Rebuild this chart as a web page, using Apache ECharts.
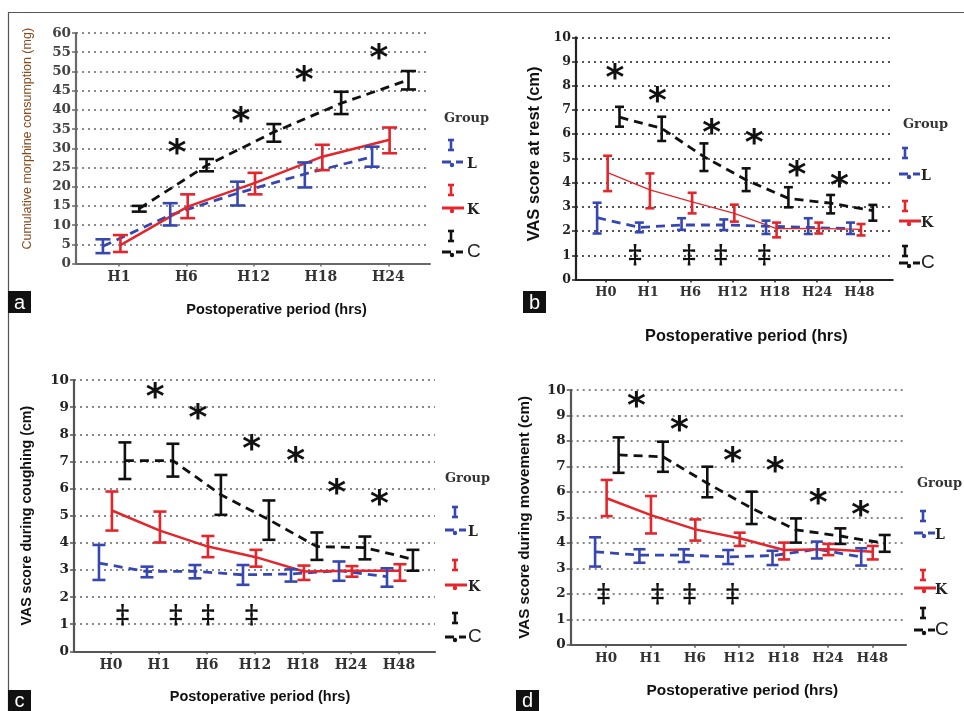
<!DOCTYPE html>
<html><head><meta charset="utf-8">
<script src="https://cdn.jsdelivr.net/npm/echarts@6/dist/echarts.min.js"></script>
<style>html,body{margin:0;padding:0;background:#fff}#c{width:964px;height:711px}</style>
</head><body><div id="c"></div>
<script>
// ---------------- DATA ----------------
const catsA = ['H1','H6','H12','H18','H24'];
const catsB = ['H0','H1','H6','H12','H18','H24','H48'];

// Panel a: cumulative morphine consumption (mg)
const aL_mean = [4.5, 12.6, 18.3, 23.3, 27.8];
const aL_lo   = [2.7, 9.9, 15.1, 19.8, 25.2];
const aL_hi   = [6.3, 15.7, 21.3, 26.3, 30.4];
const aK_mean = [4.8, 14.8, 21.0, 27.8, 32.2];
const aK_lo   = [3.0, 11.8, 18.0, 24.3, 28.7];
const aK_hi   = [7.4, 18.0, 23.6, 30.9, 35.4];
const aC_mean = [14.3, 25.5, 34.2, 41.7, 47.8];
const aC_lo   = [13.5, 24.0, 31.7, 38.9, 45.3];
const aC_hi   = [15.0, 27.2, 36.3, 44.7, 50.1];
const aStarX = [0.86, 1.81, 2.75, 3.86];
const aStarY = [30.3, 38.7, 49.5, 55.2];

// Panel b: VAS at rest
const bL_mean = [2.55, 2.15, 2.25, 2.25, 2.2, 2.15, 2.1];
const bL_lo   = [1.9, 1.95, 2.05, 2.04, 1.88, 1.88, 1.88];
const bL_hi   = [3.17, 2.35, 2.53, 2.48, 2.43, 2.53, 2.35];
const bK_mean = [4.41, 3.7, 3.21, 2.73, 2.1, 2.11, 2.07];
const bK_lo   = [3.65, 2.94, 2.73, 2.39, 1.74, 1.9, 1.82];
const bK_hi   = [5.11, 4.38, 3.58, 3.09, 2.35, 2.35, 2.29];
const bC_mean = [6.7, 6.24, 5.07, 4.11, 3.35, 3.15, 2.84];
const bC_lo   = [6.31, 5.72, 4.48, 3.65, 2.98, 2.73, 2.43];
const bC_hi   = [7.13, 6.72, 5.62, 4.59, 3.81, 3.49, 3.08];
const bStarX = [0.21, 1.22, 2.5, 3.51, 4.52, 5.53];
const bStarY = [8.58, 7.65, 6.31, 5.9, 4.59, 4.11];
const bDagX = [0.69, 1.97, 2.72, 3.75];
const bDagY = [0.95, 0.95, 0.95, 0.95];

// Panel c: VAS during coughing
const cL_mean = [3.25, 2.94, 2.95, 2.82, 2.85, 2.97, 2.75];
const cL_lo   = [2.63, 2.73, 2.69, 2.45, 2.57, 2.6, 2.38];
const cL_hi   = [3.92, 3.12, 3.18, 3.18, 3.02, 3.31, 3.06];
const cK_mean = [5.19, 4.45, 3.86, 3.47, 2.94, 2.97, 2.97];
const cK_lo   = [4.45, 4.01, 3.47, 3.12, 2.63, 2.75, 2.6];
const cK_hi   = [5.89, 5.15, 4.25, 3.74, 3.16, 3.14, 3.21];
const cC_mean = [7.03, 7.03, 5.77, 4.85, 3.86, 3.82, 3.39];
const cC_lo   = [6.35, 6.44, 5.03, 4.11, 3.37, 3.39, 2.97];
const cC_hi   = [7.7, 7.65, 6.5, 5.56, 4.38, 4.23, 3.74];
const cStarX = [0.92, 1.81, 2.93, 3.85, 4.7, 5.59];
const cStarY = [9.62, 8.84, 7.68, 7.24, 6.07, 5.68];
const cDagX = [0.24, 1.35, 2.02, 2.93];
const cDagY = [1.3, 1.3, 1.3, 1.3];

// Panel d: VAS during movement
const dL_mean = [3.65, 3.52, 3.52, 3.45, 3.5, 3.75, 3.45];
const dL_lo   = [3.07, 3.22, 3.25, 3.17, 3.13, 3.39, 3.11];
const dL_hi   = [4.22, 3.75, 3.75, 3.72, 3.69, 4.05, 3.79];
const dK_mean = [5.75, 5.09, 4.53, 4.18, 3.72, 3.75, 3.65];
const dK_lo   = [5.05, 4.37, 4.09, 3.88, 3.35, 3.52, 3.35];
const dK_hi   = [6.47, 5.84, 4.92, 4.4, 4.01, 3.96, 3.88];
const dC_mean = [7.45, 7.38, 6.34, 5.36, 4.51, 4.27, 3.98];
const dC_lo   = [6.75, 6.79, 5.79, 4.74, 4.01, 3.96, 3.65];
const dC_hi   = [8.14, 7.97, 6.99, 6.01, 4.96, 4.57, 4.31];
const dStarX = [0.68, 1.65, 2.85, 3.81, 4.78, 5.74];
const dStarY = [9.61, 8.69, 7.45, 7.06, 5.81, 5.36];
const dDagX = [-0.06, 1.16, 1.88, 2.85];
const dDagY = [1.95, 1.95, 1.95, 1.95];

const groupLabels = ['L', 'K', 'C'];
const xTitle = 'Postoperative period (hrs)';
const yTitles = ['Cumulative morphine consumption (mg)', 'VAS score at rest (cm)',
                 'VAS score during coughing (cm)', 'VAS score during movement (cm)'];
const panelLetters = ['a', 'b', 'c', 'd'];

// ---------------- STYLE / LAYOUT ----------------
const BLUE = '#3747b2', RED = '#e3262c', BLACK = '#111111';
const SERIF = '"DejaVu Serif", serif';
const SANS = '"Liberation Sans", Arial, sans-serif';

const panels = [
  { grid: {left: 76, top: 33, width: 354, height: 230.5}, xmin: -0.64, xmax: 4.62, ymax: 60, yint: 5,
    cats: catsA, off: [-0.24, 0.02, 0.3], axisColor: '#6a6a6a', gridColor: '#8a8a8a',
    yLabelSize: 13.5, yLabelColor: '#444', xLabelSize: 14, cap: 15, kWidth: 2.5,
    yName: {gap: 42, size: 12.5, color: '#8b4a1c', weight: 'normal', pad: 19},
    xName: {gap: 39, size: 14.5, pad: 47},
    series: [[aL_mean, aL_lo, aL_hi], [aK_mean, aK_lo, aK_hi], [aC_mean, aC_lo, aC_hi]],
    stars: [aStarX, aStarY], dags: null },
  { grid: {left: 576, top: 37.3, width: 316.7, height: 242.2}, xmin: -0.71, xmax: 6.79, ymax: 10, yint: 1,
    cats: catsB, off: [-0.21, 0.04, 0.32], axisColor: '#222', gridColor: '#555',
    yLabelSize: 12.5, yLabelColor: '#222', xLabelSize: 13, cap: 9, kWidth: 1.3,
    yName: {gap: 33, size: 16.5, color: '#111', weight: 'bold', pad: 9},
    xName: {gap: 49, size: 16.3, pad: 24},
    series: [[bL_mean, bL_lo, bL_hi], [bK_mean, bK_lo, bK_hi], [bC_mean, bC_lo, bC_hi]],
    stars: [bStarX, bStarY], dags: [bDagX, bDagY] },
  { grid: {left: 74, top: 380, width: 361, height: 271.3}, xmin: -0.77, xmax: 6.75, ymax: 10, yint: 1,
    cats: catsB, off: [-0.25, 0.02, 0.29], axisColor: '#555', gridColor: '#888',
    yLabelSize: 13.5, yLabelColor: '#222', xLabelSize: 14, cap: 13, kWidth: 2.5,
    yName: {gap: 40, size: 14.2, color: '#111', weight: 'bold', pad: 0},
    xName: {gap: 38, size: 14.5, pad: 11},
    series: [[cL_mean, cL_lo, cL_hi], [cK_mean, cK_lo, cK_hi], [cC_mean, cC_lo, cC_hi]],
    stars: [cStarX, cStarY], dags: [cDagX, cDagY] },
  { grid: {left: 570.7, top: 390, width: 335.3, height: 254.8}, xmin: -0.8, xmax: 6.76, ymax: 10, yint: 1,
    cats: catsB, off: [-0.25, 0.01, 0.28], axisColor: '#555', gridColor: '#888',
    yLabelSize: 13.5, yLabelColor: '#222', xLabelSize: 13.5, cap: 12, kWidth: 2.5,
    yName: {gap: 38, size: 15.2, color: '#111', weight: 'bold', pad: 0},
    xName: {gap: 38, size: 15.4, pad: 8},
    series: [[dL_mean, dL_lo, dL_hi], [dK_mean, dK_lo, dK_hi], [dC_mean, dC_lo, dC_hi]],
    stars: [dStarX, dStarY], dags: [dDagX, dDagY] }
];
const groupColors = [BLUE, RED, BLACK];
const groupDash = [[9, 6], 'solid', [9, 6]];

// ---------------- BUILD ----------------
const grids = [], xAxes = [], yAxes = [], series = [];

function errSeries(pi, lo, hi, off, color, capW) {
  return {
    type: 'custom', xAxisIndex: pi, yAxisIndex: pi, clip: false, z: 4, silent: true,
    data: lo.map((l, i) => [i + off, l, hi[i]]),
    encode: {x: 0, y: [1, 2]},
    renderItem: (params, api) => {
      const x = api.value(0), l = api.value(1), h = api.value(2);
      const p1 = api.coord([x, h]), p2 = api.coord([x, l]);
      const st = {stroke: color, lineWidth: 2.6};
      return {type: 'group', children: [
        {type: 'line', shape: {x1: p1[0], y1: p1[1], x2: p2[0], y2: p2[1]}, style: st},
        {type: 'line', shape: {x1: p1[0] - capW / 2, y1: p1[1], x2: p1[0] + capW / 2, y2: p1[1]}, style: st},
        {type: 'line', shape: {x1: p2[0] - capW / 2, y1: p2[1], x2: p2[0] + capW / 2, y2: p2[1]}, style: st}
      ]};
    }
  };
}

function textSeries(pi, xs, ys, txt, size, family, dy) {
  return {
    type: 'custom', xAxisIndex: pi, yAxisIndex: pi, clip: false, z: 5, silent: true,
    data: xs.map((x, i) => [x, ys[i]]),
    encode: {x: 0, y: 1},
    renderItem: (params, api) => {
      const p = api.coord([api.value(0), api.value(1)]);
      return {type: 'text', x: p[0], y: p[1] + dy, style: {
        text: txt, fill: '#111', font: 'bold ' + size + 'px ' + family,
        align: 'center', verticalAlign: 'middle', textAlign: 'center', textVerticalAlign: 'middle'}};
    }
  };
}

panels.forEach((p, pi) => {
  grids.push(Object.assign({containLabel: false}, p.grid));
  const idx = p.cats.map((c, i) => i);
  xAxes.push({
    type: 'value', gridIndex: pi, min: p.xmin, max: p.xmax,
    splitLine: {show: false},
    axisLine: {show: true, onZero: false, lineStyle: {color: p.axisColor, width: 2.2}},
    axisTick: {show: true, customValues: idx, length: 3, lineStyle: {color: p.axisColor, width: 1.5}},
    axisLabel: {customValues: idx, formatter: v => p.cats[Math.round(v)], fontFamily: SERIF,
      fontWeight: 'bold', fontSize: p.xLabelSize, color: '#333', margin: 7},
    name: xTitle, nameLocation: 'middle', nameGap: p.xName.gap,
    nameTextStyle: {fontFamily: SANS, fontWeight: 'bold', fontSize: p.xName.size, color: '#111',
      padding: [0, 0, 0, p.xName.pad]}
  });
  yAxes.push({
    type: 'value', gridIndex: pi, min: 0, max: p.ymax, interval: p.yint,
    axisLine: {show: true, onZero: false, lineStyle: {color: p.axisColor, width: 2.2}},
    axisTick: {show: true, length: 4, lineStyle: {color: p.axisColor, width: 1.5}},
    splitLine: {show: true, lineStyle: {type: [2, 4], color: p.gridColor, width: 2}},
    axisLabel: {fontFamily: SERIF, fontWeight: 'bold', fontSize: p.yLabelSize, color: p.yLabelColor, margin: 5},
    name: yTitles[pi], nameLocation: 'middle', nameRotate: 90, nameGap: p.yName.gap,
    nameTextStyle: {fontFamily: SANS, fontWeight: p.yName.weight, fontSize: p.yName.size, color: p.yName.color,
      padding: [0, 0, 0, p.yName.pad]}
  });
  p.series.forEach((s, gi) => {
    const [mean, lo, hi] = s;
    const off = p.off[gi];
    series.push({
      type: 'line', name: groupLabels[gi], xAxisIndex: pi, yAxisIndex: pi, z: 3, silent: true,
      data: mean.map((v, i) => [i + off, v]), symbol: 'none',
      lineStyle: {color: groupColors[gi], width: gi === 1 ? p.kWidth : 2.8, type: groupDash[gi]}
    });
    series.push(errSeries(pi, lo, hi, off, groupColors[gi], p.cap));
  });
  series.push(textSeries(pi, p.stars[0], p.stars[1], '*', 36, '"DejaVu Sans", sans-serif', 8));
  if (p.dags) series.push(textSeries(pi, p.dags[0], p.dags[1], '\u2021', 26, '"DejaVu Serif", serif', 0));
});

// ---------------- GRAPHIC (frame, labels, legends) ----------------
const graphic = [];
graphic.push({type: 'line', shape: {x1: 8, y1: 12.5, x2: 964, y2: 12.5}, style: {stroke: '#555', lineWidth: 1.2}});
graphic.push({type: 'line', shape: {x1: 8.5, y1: 12, x2: 8.5, y2: 711}, style: {stroke: '#555', lineWidth: 1.2}});

const letterBoxes = [[8, 291, 23, 22], [523, 291, 23, 22], [8, 690, 23, 21], [516, 690, 23, 21]];
letterBoxes.forEach((b, i) => {
  graphic.push({type: 'rect', shape: {x: b[0], y: b[1], width: b[2], height: b[3]}, style: {fill: '#111'}});
  graphic.push({type: 'text', x: b[0] + b[2] / 2, y: b[1] + b[3] / 2 + 1, style: {text: panelLetters[i],
    font: '20px ' + SANS, fill: '#fff', align: 'center', verticalAlign: 'middle',
    textAlign: 'center', textVerticalAlign: 'middle'}});
});

// legend layout per panel: group title pos, icon x, rows [I y, line y]
const legends = [
  {gx: 444, gy: 119, ix: 451, lx: 442, tx: 467, rows: [[145, 162], [190, 208], [236, 252]]},
  {gx: 903, gy: 125, ix: 905, lx: 899, tx: 921, rows: [[153, 174], [206, 221], [251, 263]]},
  {gx: 445, gy: 479, ix: 455, lx: 445, tx: 468, rows: [[512, 530], [565, 585], [618, 637]]},
  {gx: 917, gy: 484, ix: 923, lx: 914, tx: 935, rows: [[516, 533], [575, 588], [613, 630]]}
];
legends.forEach(L => {
  graphic.push({type: 'text', x: L.gx, y: L.gy, style: {text: 'Group', font: 'bold 13px ' + SERIF,
    fill: '#333', align: 'left', verticalAlign: 'middle', textAlign: 'left', textVerticalAlign: 'middle'}});
  L.rows.forEach((r, gi) => {
    const col = groupColors[gi];
    const st = {stroke: col, lineWidth: 2.6};
    const iy = r[0], ly = r[1];
    graphic.push({type: 'line', shape: {x1: L.ix, y1: iy - 5, x2: L.ix, y2: iy + 5}, style: st});
    graphic.push({type: 'line', shape: {x1: L.ix - 3, y1: iy - 5, x2: L.ix + 3, y2: iy - 5}, style: st});
    graphic.push({type: 'line', shape: {x1: L.ix - 3, y1: iy + 5, x2: L.ix + 3, y2: iy + 5}, style: st});
    if (gi === 1) {
      graphic.push({type: 'line', shape: {x1: L.lx, y1: ly, x2: L.lx + 22, y2: ly}, style: {stroke: col, lineWidth: 3}});
    } else {
      graphic.push({type: 'line', shape: {x1: L.lx, y1: ly, x2: L.lx + 9, y2: ly}, style: {stroke: col, lineWidth: 3}});
      graphic.push({type: 'line', shape: {x1: L.lx + 14, y1: ly, x2: L.lx + 21, y2: ly}, style: {stroke: col, lineWidth: 3}});
    }
    graphic.push({type: 'circle', shape: {cx: L.lx + 10, cy: ly + 3, r: 2.2}, style: {fill: col}});
    const isC = gi === 2;
    graphic.push({type: 'text', x: L.tx, y: ly + (isC ? 0 : 2), style: {text: groupLabels[gi],
      font: isC ? '19px ' + SANS : 'bold 14px ' + SERIF, fill: '#222', align: 'left', verticalAlign: 'middle',
      textAlign: 'left', textVerticalAlign: 'middle'}});
  });
});

const chart = echarts.init(document.getElementById('c'), null, {renderer: 'canvas'});
chart.setOption({
  backgroundColor: '#fff',
  animation: false,
  grid: grids, xAxis: xAxes, yAxis: yAxes, series: series, graphic: graphic
});
</script></body></html>
